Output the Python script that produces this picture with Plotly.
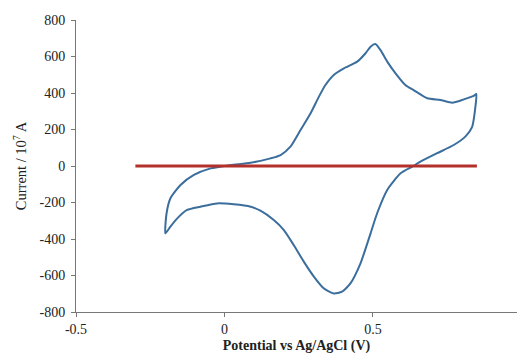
import plotly.graph_objects as go

# Cyclic voltammogram: potential (V vs Ag/AgCl) and current (x10^-7 A)
# Anodic sweep from the negative vertex, then the cathodic return.
potential = [
    -0.199, -0.195, -0.182, -0.148, -0.103, -0.047, 0.020, 0.088, 0.155, 0.189,
    0.222, 0.256, 0.290, 0.318, 0.340, 0.368, 0.402, 0.447, 0.475, 0.492,
    0.508, 0.525, 0.548, 0.576, 0.609, 0.637, 0.683, 0.727, 0.767, 0.806,
    0.839, 0.848,
    0.845, 0.834, 0.811, 0.772, 0.716, 0.660, 0.632, 0.593, 0.548, 0.514,
    0.492, 0.458, 0.424, 0.396, 0.368, 0.334, 0.301, 0.267, 0.233, 0.200,
    0.166, 0.121, 0.088, 0.031, -0.025, -0.081, -0.126, -0.159, -0.182, -0.199,
]
current = [
    -369, -259, -177, -104, -49, -13, 5, 18, 42, 60,
    106, 197, 289, 380, 444, 499, 535, 572, 618, 654,
    668, 636, 572, 508, 444, 416, 371, 362, 347, 365,
    384, 395,
    325, 215, 161, 115, 70, 24, -4, -40, -131, -259,
    -369, -533, -643, -689, -698, -670, -606, -524, -433, -351,
    -296, -245, -223, -210, -205, -223, -241, -287, -332, -369,
]

# Zero-current baseline
baseline_x = [-0.30, 0.85]
baseline_y = [0, 0]

x_ticks = [-0.5, 0, 0.5, 1]
x_labels = ["-0.5", "0", "0.5", "1"]
y_ticks = [-800, -600, -400, -200, 0, 200, 400, 600, 800]
y_labels = ["-800", "-600", "-400", "-200", "0", "200", "400", "600", "800"]

fig = go.Figure()
fig.add_trace(go.Scatter(
    x=potential, y=current, mode="lines",
    line=dict(color="#3b6e9c", width=2, shape="spline", smoothing=0.6),
    showlegend=False,
))
fig.add_trace(go.Scatter(
    x=baseline_x, y=baseline_y, mode="lines",
    line=dict(color="#b3302b", width=3),
    showlegend=False,
))

font_family = "Liberation Serif"
tick_font = dict(family=font_family, size=14, color="#222")
fig.update_layout(
    width=517, height=358,
    margin=dict(l=76, r=0, t=20, b=46),
    paper_bgcolor="white", plot_bgcolor="white",
    font=dict(family=font_family, size=14, color="#222"),
    xaxis=dict(
        range=[-0.5, 0.985], tickvals=x_ticks, ticktext=x_labels, tickfont=tick_font,
        showgrid=False, zeroline=False, showline=True, linecolor="#777", linewidth=1,
        ticks="outside", ticklen=4, tickcolor="#777",
        title=dict(text="<b>Potential vs Ag/AgCl (V)</b>",
                   font=dict(family=font_family, size=14, color="#222"), standoff=4),
    ),
    yaxis=dict(
        range=[-800, 800], tickvals=y_ticks, ticktext=y_labels, tickfont=tick_font,
        showgrid=False, zeroline=False, showline=True, linecolor="#777", linewidth=1,
        ticks="outside", ticklen=4, tickcolor="#777", ticklabelstandoff=3,
        title=dict(text="Current / 10<sup>7</sup> A",
                   font=dict(family=font_family, size=14.5, color="#222"), standoff=9),
    ),
)

fig.write_html("out.html")
